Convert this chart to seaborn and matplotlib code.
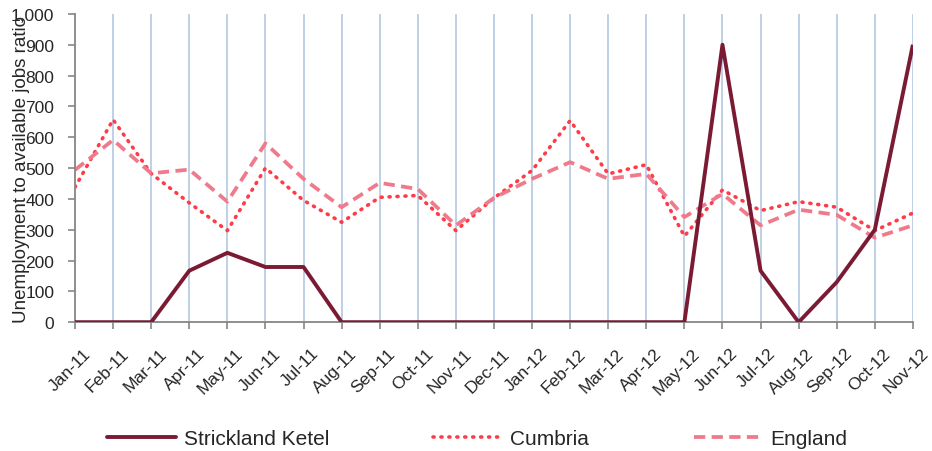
import numpy as np
import pandas as pd
import matplotlib
matplotlib.use("Agg")
import matplotlib.pyplot as plt
import matplotlib.ticker as mticker
import matplotlib.transforms as mtransforms
from matplotlib.lines import Line2D
import seaborn as sns


# DATA

months = ["Jan-11", "Feb-11", "Mar-11", "Apr-11", "May-11", "Jun-11", "Jul-11",
          "Aug-11", "Sep-11", "Oct-11", "Nov-11", "Dec-11", "Jan-12", "Feb-12",
          "Mar-12", "Apr-12", "May-12", "Jun-12", "Jul-12", "Aug-12", "Sep-12",
          "Oct-12", "Nov-12"]

strickland = [0, 0, 0, 167, 225, 179, 179, 0, 0, 0, 0, 0, 0, 0,
              0, 0, 0, 900, 167, 0, 130, 300, 900]

cumbria = [438, 657, 482, 387, 297, 500, 395, 324, 405, 411, 297, 403, 492, 654,
           481, 511, 279, 429, 362, 391, 373, 297, 354]

england = [494, 591, 483, 495, 391, 580, 465, 373, 452, 432, 314, 403, 465, 519,
           465, 481, 341, 416, 314, 365, 348, 274, 314]

series_names = ["Strickland Ketel", "Cumbria", "England"]


# STYLE

sns.set_style("white")
plt.rcParams["font.family"] = ["Liberation Sans", "DejaVu Sans"]
plt.rcParams["font.size"] = 12

colors = {"Strickland Ketel": "#7A1B33", "Cumbria": "#FF3B48", "England": "#EF7A8C"}
styles = {"Strickland Ketel": "-", "Cumbria": (0, (0.3, 1.9)), "England": (0, (3, 1.7))}
widths = {"Strickland Ketel": 2.8, "Cumbria": 2.6, "England": 2.7}

df = pd.DataFrame({"x": np.arange(len(months))})
df["Strickland Ketel"] = strickland
df["Cumbria"] = cumbria
df["England"] = england


# PLOT

fig = plt.figure(figsize=(9.32, 4.52), dpi=100)
ax = fig.add_axes([0.0805, 0.285, 0.899, 0.682])

for x in df["x"][1:]:
    ax.axvline(x, color="#B9CDE5", lw=1.3, zorder=0)

for name in ["Cumbria", "England", "Strickland Ketel"]:
    sns.lineplot(
        data=df,
        x="x",
        y=name,
        ax=ax,
        color=colors[name],
        linestyle=styles[name],
        lw=widths[name],
        solid_capstyle="butt",
        dash_capstyle="round" if name == "Cumbria" else "butt",
        zorder=3 if name == "Strickland Ketel" else 2,
    )

ax.set_xlim(0, len(months) - 1)
ax.set_ylim(0, 1000)
ax.set_yticks(range(0, 1001, 100))
ax.yaxis.set_major_formatter(mticker.FuncFormatter(lambda v, p: f"{int(v):,}"))
ax.set_xticks(df["x"])

ax.set_xlabel("")
ax.set_ylabel("Unemployment to available jobs ratio", fontsize=13.5, labelpad=-13.5)

for s in ["top", "right"]:
    ax.spines[s].set_visible(False)
for s in ["left", "bottom"]:
    ax.spines[s].set_color("#868686")
    ax.spines[s].set_linewidth(1.3)

ax.tick_params(axis="both", which="major", direction="out", length=5,
               width=1.2, color="#868686", left=True, bottom=True)
ax.tick_params(axis="y", pad=10, labelsize=12.5)
ax.tick_params(axis="x", pad=14)

ax.set_xticklabels(months, rotation=45, ha="right", va="center",
                   rotation_mode="anchor", fontsize=12.5)

# nudge x labels right, like the original (after tick_params, which resets transforms)
offset = mtransforms.ScaledTranslation(13 / 100, -2 / 100, fig.dpi_scale_trans)
for lab in ax.get_xticklabels():
    lab.set_transform(lab.get_transform() + offset)

handles = [Line2D([0], [0], color=colors[n], linestyle=styles[n], lw=widths[n],
                  dash_capstyle="round" if n == "Cumbria" else "butt")
           for n in series_names]

fig.legend(
    handles,
    series_names,
    loc="center",
    bbox_to_anchor=(0.512, 0.027),
    ncol=3,
    frameon=False,
    fontsize=15,
    handlelength=3.3,
    handletextpad=0.4,
    columnspacing=5.0,
)

fig.savefig("out.png", dpi=100)
